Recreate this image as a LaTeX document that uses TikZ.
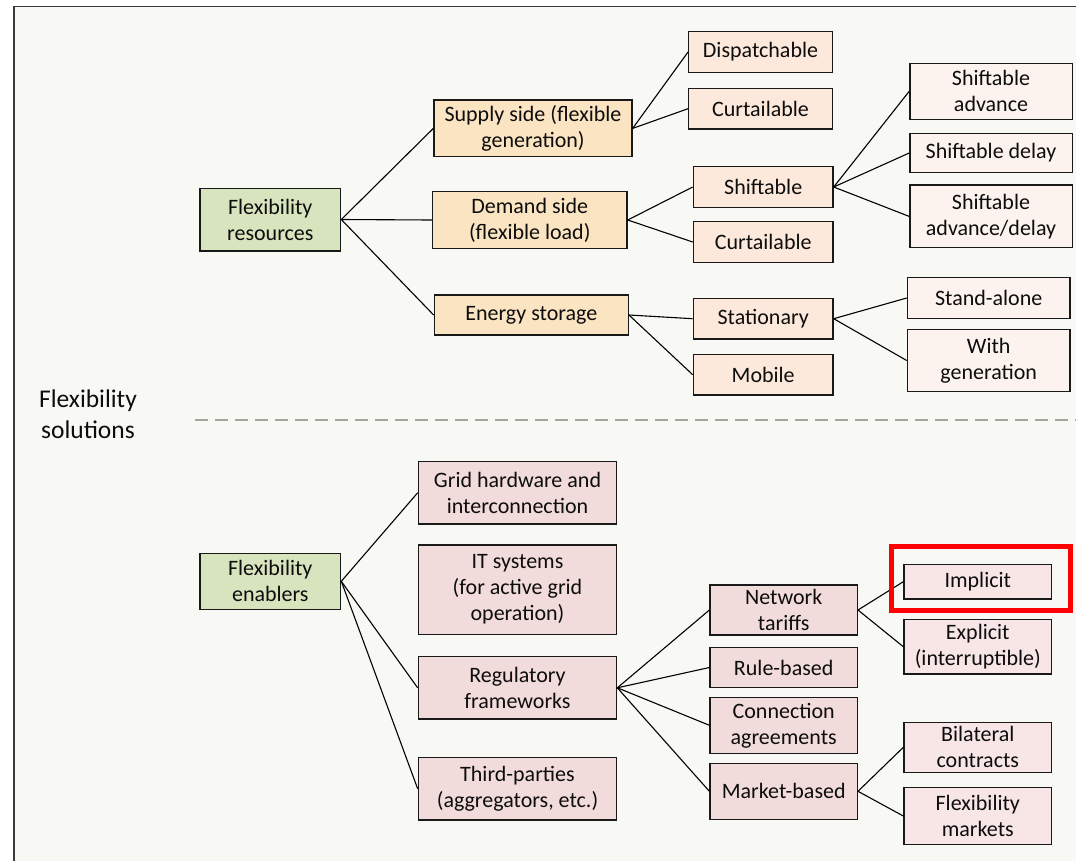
\documentclass[tikz,border=0pt]{standalone}
\usepackage{fontspec}
\setmainfont{Carlito}
\definecolor{panelbg}{HTML}{F8F8F4}
\definecolor{framegray}{HTML}{3A3A3A}
\definecolor{rootgreen}{HTML}{D7E4BD}
\definecolor{resone}{HTML}{FBE4C1}
\definecolor{restwo}{HTML}{FDE9DB}
\definecolor{resthree}{HTML}{FDF3EE}
\definecolor{enaone}{HTML}{F2DCDB}
\definecolor{enathree}{HTML}{F8E6E6}
\definecolor{sepgray}{HTML}{A2A59A}
\definecolor{hlred}{HTML}{FF0000}
\begin{document}
\begin{tikzpicture}[x=1pt,y=-1pt,
  box/.style={draw=black!90, line width=1.3pt, inner sep=1pt, align=center,
    text=black!95, font=\fontsize{22}{26}\selectfont},
  root/.style={box, fill=rootgreen},
  rone/.style={box, fill=resone},
  rtwo/.style={box, fill=restwo},
  rthree/.style={box, fill=resthree},
  eone/.style={box, fill=enaone},
  ethree/.style={box, fill=enathree},
  link/.style={draw=black, line width=1.1pt},
  sz/.style 2 args={minimum width=#1pt, minimum height=#2pt}]

\useasboundingbox (0,0) rectangle (1076,860);
\fill[white] (0,0) rectangle (1076,860);
% panel with its frame (continues past the right and bottom edges)
\fill[panelbg] (14,6.5) rectangle (1090,870);
\draw[framegray, line width=1.4pt] (14,870) -- (14,6.5) -- (1090,6.5);

% section label and separator
\node[font=\fontsize{25.5}{31}\selectfont, align=center, text=black!95] (sol) at (88,414) {Flexibility\\solutions};
\coordinate (sepL) at (195,420);
\coordinate (sepR) at (1090,420);
\draw[sepgray, line width=1.6pt, dash pattern=on 13pt off 7pt] (sepL) -- (sepR);

% ---------- flexibility resources ----------
\node[root, sz={140.7}{62.7}] (res) at (270.3,219.5) {Flexibility\\resources};
\node[rone, sz={198}{56.7}] (sup) at (533,128.4) {Supply side (flexible\\generation)};
\node[rone, sz={194.6}{56.6}] (dem) at (529.8,220) {Demand side\\(flexible load)};
\node[rone, sz={194}{40}] (sto) at (531.3,315) {Energy storage};

\node[rtwo, sz={143.6}{40.6}] (disp) at (760.5,52) {Dispatchable};
\node[rtwo, sz={143.6}{40.7}] (curtA) at (760.5,108.7) {Curtailable};
\node[rtwo, sz={139.7}{40.6}] (shift) at (763.2,187) {Shiftable};
\node[rtwo, sz={139.7}{40.6}] (curtB) at (763.2,242) {Curtailable};
\node[rtwo, sz={139.7}{40.7}] (stat) at (763.2,318.7) {Stationary};
\node[rtwo, sz={139.7}{40.7}] (mob) at (763.2,374.7) {Mobile};

\node[rthree, sz={162.3}{56}] (sadv) at (991,91.3) {Shiftable\\advance};
\node[rthree, sz={162.3}{39.4}] (sdel) at (991,153) {Shiftable delay};
\node[rthree, sz={162.3}{62.7}] (sboth) at (991,216.4) {Shiftable\\advance/delay};
\node[rthree, sz={162.7}{40.6}] (alone) at (988.7,298) {Stand-alone};
\node[rthree, sz={162.7}{62.4}] (withgen) at (988.7,360.5) {With\\generation};

\draw[link] (res.east) -- (sup.west);
\draw[link] (res.east) -- (dem.west);
\draw[link] (res.east) -- (sto.west);
\draw[link] (sup.east) -- (disp.west);
\draw[link] (sup.east) -- (curtA.west);
\draw[link] (dem.east) -- (shift.west);
\draw[link] (dem.east) -- (curtB.west);
\draw[link] (sto.east) -- (stat.west);
\draw[link] (sto.east) -- (mob.west);
\draw[link] (shift.east) -- (sadv.west);
\draw[link] (shift.east) -- (sdel.west);
\draw[link] (shift.east) -- (sboth.west);
\draw[link] (stat.east) -- (alone.west);
\draw[link] (stat.east) -- (withgen.west);

% ---------- flexibility enablers ----------
\node[root, sz={140.7}{56}] (ena) at (270.3,581.3) {Flexibility\\enablers};
\node[eone, sz={198.4}{62.3}] (grid) at (517.5,492.8) {Grid hardware and\\interconnection};
\node[eone, sz={198.4}{89.3}] (its) at (517.5,589.7) {IT systems\\(for active grid\\operation)};
\node[eone, sz={198.4}{62.3}] (reg) at (517.5,687.8) {Regulatory\\frameworks};
\node[eone, sz={198.4}{62.7}] (third) at (517.5,788.7) {Third-parties\\(aggregators, etc.)};

\node[eone, sz={147.3}{50}] (net) at (783.7,610) {Network\\tariffs};
\node[eone, sz={147.3}{40.4}] (rule) at (783.7,667.5) {Rule-based};
\node[eone, sz={147.3}{56}] (conn) at (783.7,725.3) {Connection\\agreements};
\node[eone, sz={147.3}{56}] (mkt) at (783.7,791.3) {Market-based};

\node[ethree, sz={147.7}{34.7}] (impl) at (977.8,581.7) {Implicit};
\node[ethree, sz={147.7}{54.7}] (expl) at (977.8,646.7) {Explicit\\(interruptible)};
\node[ethree, sz={147.7}{50}] (bil) at (977.8,747.3) {Bilateral\\contracts};
\node[ethree, sz={147.7}{56.6}] (fmk) at (977.8,816) {Flexibility\\markets};

\draw[link] (ena.east) -- (grid.west);
\draw[link] (ena.east) -- (reg.west);
\draw[link] (ena.east) -- (third.west);
\draw[link] (reg.east) -- (net.west);
\draw[link] (reg.east) -- (rule.west);
\draw[link] (reg.east) -- (conn.west);
\draw[link] (reg.east) -- (mkt.west);
\draw[link] (net.east) -- (impl.west);
\draw[link] (net.east) -- (expl.west);
\draw[link] (mkt.east) -- (bil.west);
\draw[link] (mkt.east) -- (fmk.west);

% highlight around the implicit tariffs
\node[draw=hlred, line width=5pt, inner sep=0pt, minimum width=179pt, minimum height=64.5pt] (hl) at (981,578.7) {};

\end{tikzpicture}
\end{document}
